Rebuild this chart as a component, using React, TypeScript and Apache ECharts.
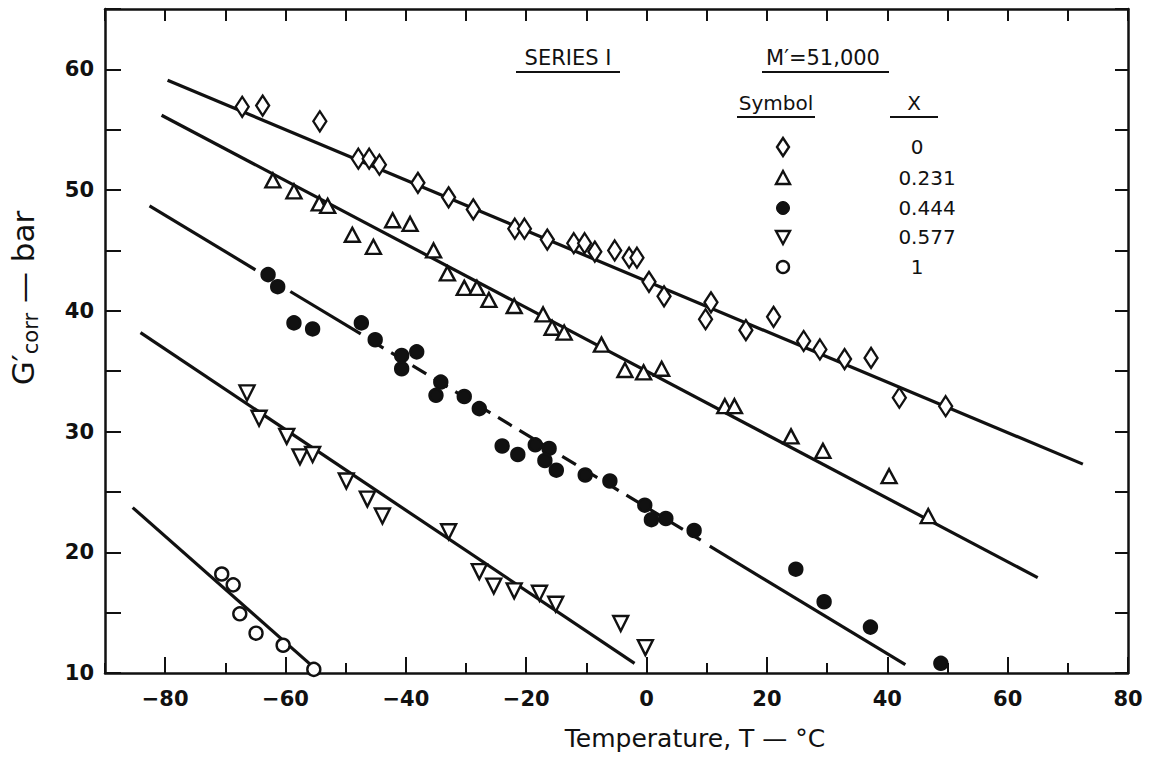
import React, { useEffect, useRef } from "react";
import * as echarts from "echarts";

// ---- Data (Temperature °C, G'corr bar) ----
const xMajorTicks = [-80, -60, -40, -20, 0, 20, 40, 60, 80];

const diamondX0: [number, number][] = [
  [-67.2, 56.9], [-63.8, 57.0], [-54.3, 55.7], [-47.9, 52.6], [-46.1, 52.6], [-44.4, 52.1],
  [-38.0, 50.6], [-32.9, 49.4], [-28.8, 48.4], [-21.9, 46.8], [-20.3, 46.8], [-16.5, 45.9],
  [-12.1, 45.6], [-10.3, 45.6], [-8.6, 44.9], [-5.3, 45.0], [-2.9, 44.4], [-1.6, 44.4],
  [0.4, 42.4], [2.9, 41.2], [10.7, 40.7], [9.8, 39.3], [16.5, 38.4], [21.1, 39.5],
  [26.1, 37.5], [28.8, 36.8], [32.9, 36.0], [37.3, 36.1], [42.0, 32.8], [49.7, 32.1],
];

const triangleX0231: [number, number][] = [
  [-62.1, 50.8], [-58.6, 49.9], [-54.4, 48.9], [-53.0, 48.7], [-48.9, 46.3], [-45.4, 45.3],
  [-42.2, 47.5], [-39.3, 47.2], [-35.4, 45.0], [-33.1, 43.1], [-30.3, 41.9], [-28.2, 41.9],
  [-26.2, 40.9], [-22.0, 40.4], [-17.2, 39.7], [-15.7, 38.6], [-13.7, 38.2], [-7.5, 37.2],
  [-3.6, 35.1], [-0.5, 34.9], [2.5, 35.2], [13.0, 32.1], [14.6, 32.1], [24.0, 29.6],
  [29.3, 28.4], [40.3, 26.3], [46.8, 23.0],
];

const filledX0444: [number, number][] = [
  [-62.9, 43.0], [-61.3, 42.0], [-58.6, 39.0], [-55.5, 38.5], [-47.4, 39.0], [-45.1, 37.6],
  [-40.7, 36.3], [-38.2, 36.6], [-40.7, 35.2], [-34.2, 34.1], [-35.0, 33.0], [-30.3, 32.9],
  [-27.8, 31.9], [-24.0, 28.8], [-21.4, 28.1], [-18.5, 28.9], [-16.2, 28.6], [-16.9, 27.6],
  [-15.0, 26.8], [-10.2, 26.4], [-6.1, 25.9], [-0.3, 23.9], [0.8, 22.7], [3.2, 22.8],
  [7.9, 21.8], [24.8, 18.6], [29.5, 15.9], [37.2, 13.8], [48.9, 10.8],
];

const invTriangleX0577: [number, number][] = [
  [-66.4, 33.2], [-64.4, 31.1], [-59.8, 29.6], [-57.6, 27.9], [-55.5, 28.1], [-49.9, 25.9],
  [-46.4, 24.4], [-43.9, 23.0], [-32.9, 21.7], [-27.8, 18.4], [-25.4, 17.2], [-22.0, 16.8],
  [-17.8, 16.6], [-15.1, 15.7], [-4.3, 14.1], [-0.2, 12.1],
];

const circleX1: [number, number][] = [
  [-70.6, 18.2], [-68.7, 17.3], [-67.6, 14.9], [-64.9, 13.3], [-60.4, 12.3], [-55.3, 10.3],
];

// fitted lines (end points)
const lineX0: [number, number][] = [[-79.6, 59.1], [72.5, 27.3]];
const lineX0231: [number, number][] = [[-80.6, 56.2], [65.0, 17.9]];
// the X = 0.444 line is drawn broken around its symbols
const lineX0444SolidA: [number, number][] = [[-82.6, 48.7], [-65.0, 43.4]];
const lineX0444SolidB: [number, number][] = [[-59.2, 41.6], [-47.5, 38.1]];
const lineX0444Dashed: [number, number][] = [[-46.0, 37.6], [9.0, 21.0]];
const lineX0444SolidC: [number, number][] = [[10.5, 20.5], [43.0, 10.7]];
const lineX0577: [number, number][] = [[-84.1, 38.2], [-2.0, 10.8]];
const lineX1: [number, number][] = [[-85.4, 23.7], [-54.7, 10.2]];

const legendXValues = ["0", "0.231", "0.444", "0.577", "1"];

export default function App() {
  const ref = useRef<HTMLDivElement>(null);

  useEffect(() => {
    if (!ref.current) return;
    const chart = echarts.init(ref.current, null, { renderer: "svg" });
    const font = "DejaVu Sans";
    const black = "#111";
    const lineStyle = { color: black, width: 2.5 };
    const tickStyle = { color: black, width: 2 };

    const lineSeries = (data: [number, number][], type: any = "solid") => ({
      type: "line",
      data,
      symbol: "none",
      silent: true,
      lineStyle: { color: black, width: 3.2, type },
      z: 2,
    });

    const scatter = (data: [number, number][], symbol: string, size: any, fill: string, rotate = 0) => ({
      type: "scatter",
      data,
      symbol,
      symbolSize: size,
      symbolRotate: rotate,
      itemStyle: { color: fill, borderColor: black, borderWidth: 2.4, opacity: 1 },
      z: 3,
    });

    const txt = (x: number, y: number, text: string, size: number, align = "center") => ({
      type: "text",
      x,
      y,
      style: {
        text,
        fontSize: size,
        fontFamily: font,
        fill: black,
        align,
        verticalAlign: "middle",
      },
    });
    const uline = (x1: number, x2: number, y: number) => ({
      type: "line",
      shape: { x1, y1: y, x2, y2: y },
      style: { stroke: black, lineWidth: 2 },
    });

    const lx = 783;
    const rows = [147, 178, 208, 237, 267];

    chart.setOption({
      animation: false,
      backgroundColor: "#fff",
      grid: { left: 105, right: 26, top: 9, bottom: 84, containLabel: false },
      xAxis: [
        {
          type: "value", position: "bottom", min: -90, max: 80, interval: 10,
          axisLine: { show: true, onZero: false, lineStyle },
          axisTick: { show: true, inside: true, length: 10, lineStyle: tickStyle },
          axisLabel: {
            formatter: (v: number) => (v % 20 === 0 ? String(v).replace("-", "\u2212") : ""),
            margin: 15, fontSize: 21, fontWeight: "bold", color: black, fontFamily: font,
          },
          splitLine: { show: false },
        },
        {
          type: "value", position: "bottom", min: -90, max: 80, interval: 10,
          axisLine: { show: false, onZero: false },
          axisTick: { show: true, inside: true, length: 16, lineStyle: tickStyle, customValues: xMajorTicks },
          axisLabel: { show: false },
          splitLine: { show: false },
        },
        {
          type: "value", position: "top", min: -90, max: 80, interval: 10,
          axisLine: { show: true, onZero: false, lineStyle },
          axisTick: { show: true, inside: true, length: 12, lineStyle: tickStyle },
          axisLabel: { show: false },
          splitLine: { show: false },
        },
      ],
      yAxis: [
        {
          type: "value", position: "left", min: 10, max: 65, interval: 5,
          axisLine: { show: true, onZero: false, lineStyle },
          axisTick: { show: true, inside: true, length: 16, lineStyle: tickStyle },
          axisLabel: {
            formatter: (v: number) => (v % 10 === 0 ? String(v) : ""),
            margin: 11, fontSize: 21, fontWeight: "bold", color: black, fontFamily: font,
          },
          splitLine: { show: false },
        },
        {
          type: "value", position: "right", min: 10, max: 65, interval: 5,
          axisLine: { show: true, onZero: false, lineStyle },
          axisTick: { show: true, inside: true, length: 13, lineStyle: tickStyle },
          axisLabel: { show: false },
          splitLine: { show: false },
        },
      ],
      series: [
        lineSeries(lineX0),
        lineSeries(lineX0231),
        lineSeries(lineX0444SolidA),
        lineSeries(lineX0444SolidB),
        lineSeries(lineX0444Dashed, [16, 9]),
        lineSeries(lineX0444SolidC),
        lineSeries(lineX0577),
        lineSeries(lineX1),
        scatter(diamondX0, "diamond", [13, 20], "#fff"),
        scatter(triangleX0231, "triangle", [15, 14], "#fff"),
        scatter(filledX0444, "circle", 13, black),
        scatter(invTriangleX0577, "triangle", [15, 15], "#fff", 180),
        scatter(circleX1, "circle", 13, "#fff"),
      ],
      graphic: [
        txt(695, 738, "Temperature, T \u2014 \u00b0C", 25),
        {
          type: "text",
          x: 23,
          y: 298,
          rotation: Math.PI / 2,
          style: {
            text: "{m|G\u2032}{s|corr}{m| \u2014 bar}",
            fill: black,
            align: "center",
            verticalAlign: "middle",
            rich: {
              m: { fontSize: 31, fontFamily: font, fill: black, lineHeight: 36 },
              s: { fontSize: 21, fontFamily: font, fill: black, verticalAlign: "bottom" },
            },
          },
        },
        txt(568, 58, "SERIES I", 21),
        uline(516, 620, 72),
        txt(823, 58, "M\u2032=51,000", 21),
        uline(762, 889, 72),
        txt(776, 103, "Symbol", 20),
        uline(737, 815, 117),
        txt(914, 103, "X", 20),
        uline(890, 938, 117),
        {
          type: "polygon",
          shape: { points: [[lx, rows[0] - 9], [lx + 6, rows[0]], [lx, rows[0] + 9], [lx - 6, rows[0]]] },
          style: { fill: "#fff", stroke: black, lineWidth: 2.4 },
        },
        {
          type: "polygon",
          shape: { points: [[lx, rows[1] - 7], [lx + 7, rows[1] + 6], [lx - 7, rows[1] + 6]] },
          style: { fill: "#fff", stroke: black, lineWidth: 2.4 },
        },
        {
          type: "circle",
          shape: { cx: lx, cy: rows[2], r: 6.5 },
          style: { fill: black, stroke: black, lineWidth: 1 },
        },
        {
          type: "polygon",
          shape: { points: [[lx - 7, rows[3] - 6], [lx + 7, rows[3] - 6], [lx, rows[3] + 7]] },
          style: { fill: "#fff", stroke: black, lineWidth: 2.4 },
        },
        {
          type: "circle",
          shape: { cx: lx, cy: rows[4], r: 6 },
          style: { fill: "#fff", stroke: black, lineWidth: 2.4 },
        },
        ...legendXValues.map((t, i) => txt(t.length > 1 ? 927 : 917, rows[i], t, 20)),
      ],
    });

    return () => chart.dispose();
  }, []);

  return (
    <div
      ref={ref}
      style={{ position: "absolute", left: 0, top: 0, width: 1154, height: 757, background: "#fff" }}
    />
  );
}
